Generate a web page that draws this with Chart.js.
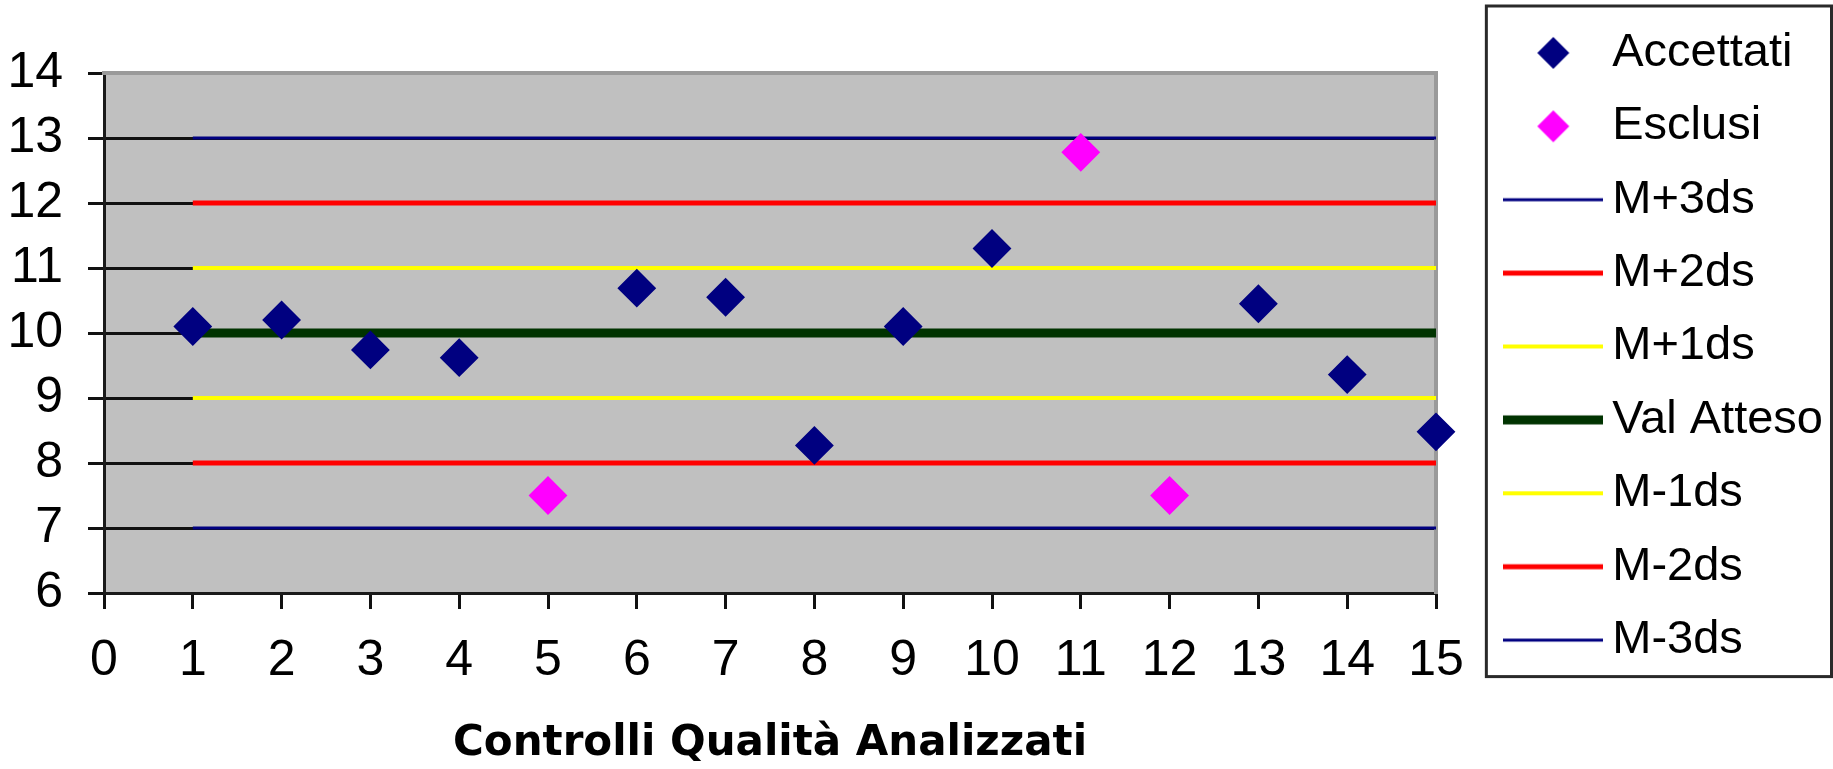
<!DOCTYPE html>
<html>
<head>
<meta charset="utf-8">
<script src="https://cdn.jsdelivr.net/npm/chart.js@4"></script>
<style>
  html, body { margin: 0; padding: 0; background: #ffffff; }
  canvas { display: block; }
</style>
</head>
<body>
<canvas id="chart" width="1833" height="769"></canvas>
<script>
// ---- data ----
const xTickValues = [0, 1, 2, 3, 4, 5, 6, 7, 8, 9, 10, 11, 12, 13, 14, 15];
const yTickValues = [6, 7, 8, 9, 10, 11, 12, 13, 14];
const controls = [1, 2, 3, 4, 5, 6, 7, 8, 9, 10, 11, 12, 13, 14, 15];

const accettatiX = [1, 2, 3, 4, 6, 7, 8, 9, 10, 13, 14, 15];
const accettatiY = [10.1, 10.2, 9.74, 9.62, 10.69, 10.55, 8.27, 10.1, 11.3, 10.45, 9.36, 8.48];

const esclusiX = [5, 11, 12];
const esclusiY = [7.5, 12.78, 7.5];

const limitLabels = ['M+3ds', 'M+2ds', 'M+1ds', 'Val Atteso', 'M-1ds', 'M-2ds', 'M-3ds'];
const limitValues = [13, 12, 11, 10, 9, 8, 7];

const xTitle = 'Controlli Qualità Analizzati';

// ---- styles ----
const lineStyles = {
  'M+3ds':      { color: '#000080', width: 3 },
  'M+2ds':      { color: '#ff0000', width: 5 },
  'M+1ds':      { color: '#ffff00', width: 4 },
  'Val Atteso': { color: '#003300', width: 9 },
  'M-1ds':      { color: '#ffff00', width: 4 },
  'M-2ds':      { color: '#ff0000', width: 5 },
  'M-3ds':      { color: '#000080', width: 3 }
};
const markerStyles = {
  'Accettati': '#000080',
  'Esclusi':   '#ff00ff'
};

// ---- legend glyphs ----
function makeDiamondGlyph(color) {
  const c = document.createElement('canvas');
  c.width = 34; c.height = 34;
  const g = c.getContext('2d');
  g.fillStyle = color;
  g.beginPath();
  g.moveTo(17, 1); g.lineTo(33, 17); g.lineTo(17, 33); g.lineTo(1, 17);
  g.closePath();
  g.fill();
  return c;
}
function makeLineGlyph(color, width) {
  const c = document.createElement('canvas');
  c.width = 100; c.height = 16;
  const g = c.getContext('2d');
  g.strokeStyle = color;
  g.lineWidth = width;
  g.beginPath();
  g.moveTo(0, 8); g.lineTo(100, 8);
  g.stroke();
  return c;
}

// ---- datasets ----
const datasets = [
  {
    label: 'Accettati',
    data: accettatiX.map((x, i) => ({ x: x, y: accettatiY[i] })),
    showLine: false,
    pointStyle: 'rectRot',
    pointRadius: 18,
    pointHoverRadius: 18,
    pointBackgroundColor: markerStyles['Accettati'],
    pointBorderColor: markerStyles['Accettati'],
    backgroundColor: markerStyles['Accettati'],
    borderColor: markerStyles['Accettati'],
    pointBorderWidth: 2,
    clip: false
  },
  {
    label: 'Esclusi',
    data: esclusiX.map((x, i) => ({ x: x, y: esclusiY[i] })),
    showLine: false,
    pointStyle: 'rectRot',
    pointRadius: 18,
    pointHoverRadius: 18,
    pointBackgroundColor: markerStyles['Esclusi'],
    pointBorderColor: markerStyles['Esclusi'],
    backgroundColor: markerStyles['Esclusi'],
    borderColor: markerStyles['Esclusi'],
    pointBorderWidth: 2,
    clip: false
  }
];
limitLabels.forEach((name, i) => {
  const st = lineStyles[name];
  datasets.push({
    label: name,
    data: [
      { x: controls[0], y: limitValues[i] },
      { x: controls[controls.length - 1], y: limitValues[i] }
    ],
    showLine: true,
    fill: false,
    borderColor: st.color,
    backgroundColor: st.color,
    borderWidth: st.width,
    pointRadius: 0,
    pointHoverRadius: 0,
    clip: false
  });
});

const glyphs = datasets.map(ds =>
  markerStyles[ds.label] ? makeDiamondGlyph(markerStyles[ds.label])
                         : makeLineGlyph(lineStyles[ds.label].color, lineStyles[ds.label].width)
);

const LEGEND_FONT = 47;
const LEGEND_PAD = 26.4;

// ---- plugins ----
const plotBackground = {
  id: 'plotBackground',
  beforeDraw(chart) {
    const a = chart.chartArea;
    const ctx = chart.ctx;
    ctx.save();
    ctx.fillStyle = '#c0c0c0';
    ctx.fillRect(a.left, a.top, a.right - a.left, a.bottom - a.top);
    ctx.restore();
  }
};
const legendFrame = {
  id: 'legendFrame',
  afterDraw(chart) {
    const lg = chart.legend;
    if (!lg) return;
    const n = lg.legendItems ? lg.legendItems.length : 9;
    const ctx = chart.ctx;
    const left = lg.left - 5;
    const top = lg.top + 3;
    const bottom = lg.top + LEGEND_PAD + n * (LEGEND_FONT + LEGEND_PAD) - LEGEND_PAD + 13;
    const right = chart.width - 1.5;
    ctx.save();
    ctx.strokeStyle = '#2a2a2a';
    ctx.lineWidth = 3;
    ctx.strokeRect(left, top, right - left, bottom - top);
    ctx.restore();
  }
};

const tickFont = { family: "'Liberation Sans', Arial, sans-serif", size: 50 };

new Chart(document.getElementById('chart'), {
  type: 'scatter',
  data: { datasets: datasets },
  options: {
    responsive: false,
    animation: false,
    devicePixelRatio: 1,
    layout: { padding: { top: 3, left: 0, right: 0, bottom: 0 } },
    plugins: {
      tooltip: { enabled: false },
      legend: {
        display: true,
        position: 'right',
        align: 'start',
        maxWidth: 420,
        labels: {
          usePointStyle: true,
          pointStyleWidth: 71,
          boxHeight: LEGEND_FONT,
          padding: LEGEND_PAD,
          color: '#000000',
          font: { family: "'Liberation Sans', Arial, sans-serif", size: LEGEND_FONT },
          generateLabels(chart) {
            const items = Chart.defaults.plugins.legend.labels.generateLabels(chart);
            items.forEach(it => { it.pointStyle = glyphs[it.datasetIndex]; });
            return items;
          }
        }
      }
    },
    scales: {
      x: {
        type: 'linear',
        position: 'bottom',
        min: xTickValues[0],
        max: xTickValues[xTickValues.length - 1],
        afterBuildTicks(scale) { scale.ticks = xTickValues.map(v => ({ value: v })); },
        ticks: { font: tickFont, color: '#000000', padding: 22, autoSkip: false, maxRotation: 0 },
        grid: { display: true, drawOnChartArea: false, drawTicks: true, tickLength: 16, color: '#111111', lineWidth: 3 },
        border: { display: true, color: '#1a1a1a', width: 3 },
        title: {
          display: true,
          text: xTitle,
          color: '#000000',
          font: { family: "'DejaVu Sans', sans-serif", size: 42, weight: 'bold' },
          padding: { top: 0, bottom: 0 }
        },
        afterFit(scale) { scale.height = 176; }
      },
      y: {
        type: 'linear',
        position: 'left',
        min: yTickValues[0],
        max: yTickValues[yTickValues.length - 1],
        afterBuildTicks(scale) { scale.ticks = yTickValues.map(v => ({ value: v })); },
        ticks: { font: tickFont, color: '#000000', padding: 25, autoSkip: false },
        grid: { display: true, drawOnChartArea: true, drawTicks: true, tickLength: 16, color: '#111111', lineWidth: 3 },
        border: { display: true, color: '#1a1a1a', width: 3 },
        afterFit(scale) { scale.width = 104; }
      },
      x2: {
        type: 'linear',
        position: 'top',
        display: true,
        ticks: { display: false },
        grid: { display: false },
        border: { display: true, color: '#9a9a9a', width: 4 },
        afterFit(scale) { scale.height = 70; }
      },
      y2: {
        type: 'linear',
        position: 'right',
        display: true,
        ticks: { display: false },
        grid: { display: false },
        border: { display: true, color: '#9a9a9a', width: 4 },
        afterFit(scale) {
          const lw = (scale.chart.legend && scale.chart.legend.width) || 345;
          scale.width = Math.max(scale.chart.width - 1436 - lw, 0);
        }
      }
    }
  },
  plugins: [plotBackground, legendFrame]
});
</script>
</body>
</html>
